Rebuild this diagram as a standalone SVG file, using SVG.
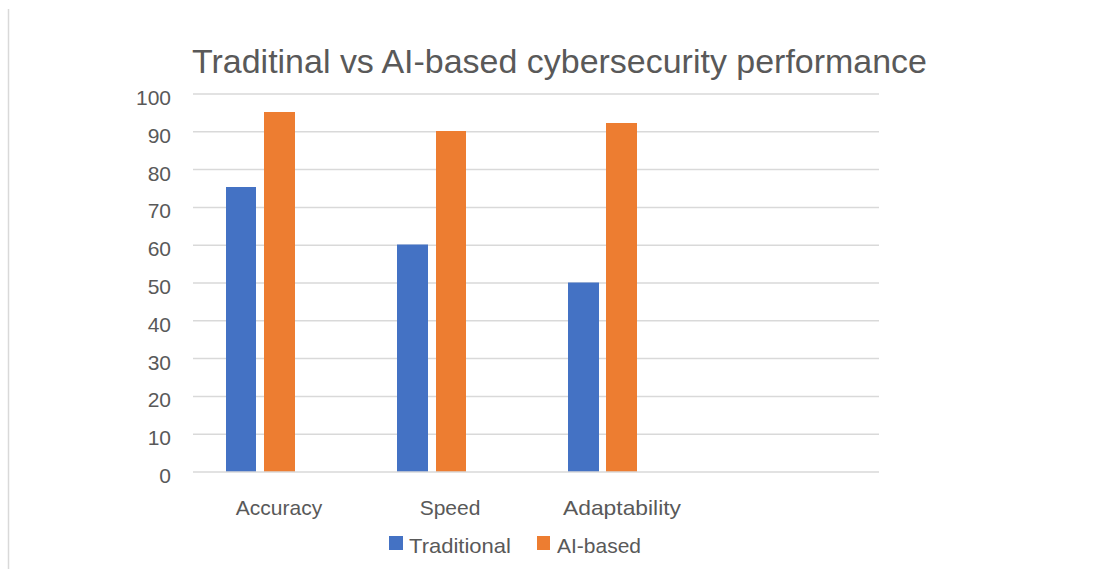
<svg xmlns="http://www.w3.org/2000/svg" width="1099" height="569" viewBox="0 0 1099 569">
<style>
text{font-family:"Liberation Sans",Arial,sans-serif;fill:#595959}
.grid{stroke:#d9d9d9;stroke-width:1.5}
.ax{font-size:21px;text-anchor:end}
.cat{font-size:21px;text-anchor:middle}
.leg{font-size:21px}
.trad{fill:#4472c4}
.ai{fill:#ed7d31}
</style>
<rect x="0" y="0" width="1099" height="569" fill="#ffffff"/>
<line x1="8.5" y1="9" x2="8.5" y2="569" stroke="#d9d9d9" stroke-width="1.5"/>
<text x="192" y="73" font-size="33" textLength="735" lengthAdjust="spacingAndGlyphs">Traditinal vs AI-based cybersecurity performance</text>
<g id="gridlines">
<line class="grid" x1="193" y1="94" x2="879" y2="94"/>
<line class="grid" x1="193" y1="131.8" x2="879" y2="131.8"/>
<line class="grid" x1="193" y1="169.6" x2="879" y2="169.6"/>
<line class="grid" x1="193" y1="207.4" x2="879" y2="207.4"/>
<line class="grid" x1="193" y1="245.2" x2="879" y2="245.2"/>
<line class="grid" x1="193" y1="283" x2="879" y2="283"/>
<line class="grid" x1="193" y1="320.8" x2="879" y2="320.8"/>
<line class="grid" x1="193" y1="358.6" x2="879" y2="358.6"/>
<line class="grid" x1="193" y1="396.4" x2="879" y2="396.4"/>
<line class="grid" x1="193" y1="434.2" x2="879" y2="434.2"/>
</g>
<g id="y-axis">
<text class="ax" x="171" y="105">100</text>
<text class="ax" x="171" y="142.8">90</text>
<text class="ax" x="171" y="180.6">80</text>
<text class="ax" x="171" y="218.4">70</text>
<text class="ax" x="171" y="256.2">60</text>
<text class="ax" x="171" y="294">50</text>
<text class="ax" x="171" y="331.8">40</text>
<text class="ax" x="171" y="369.6">30</text>
<text class="ax" x="171" y="407.4">20</text>
<text class="ax" x="171" y="445.2">10</text>
<text class="ax" x="171" y="483">0</text>
</g>
<g id="accuracy">
<rect class="trad" x="226" y="187" width="30" height="285"/>
<rect class="ai" x="264" y="112" width="31" height="360"/>
<text class="cat" x="279" y="515">Accuracy</text>
</g>
<g id="speed">
<rect class="trad" x="397" y="244.5" width="31" height="227.5"/>
<rect class="ai" x="436" y="131" width="30" height="341"/>
<text class="cat" x="450" y="515">Speed</text>
</g>
<g id="adaptability">
<rect class="trad" x="568" y="282.5" width="31" height="189.5"/>
<rect class="ai" x="606" y="123" width="31" height="349"/>
<text class="cat" x="622" y="515" textLength="118" lengthAdjust="spacingAndGlyphs">Adaptability</text>
</g>
<line class="grid" x1="193" y1="472" x2="879" y2="472"/>
<g id="legend">
<rect class="trad" x="389" y="536" width="14" height="14"/>
<text class="leg" x="409" y="553" textLength="102" lengthAdjust="spacingAndGlyphs">Traditional</text>
<rect class="ai" x="537" y="536" width="13" height="14"/>
<text class="leg" x="557" y="553" textLength="84" lengthAdjust="spacingAndGlyphs">AI-based</text>
</g>
</svg>
